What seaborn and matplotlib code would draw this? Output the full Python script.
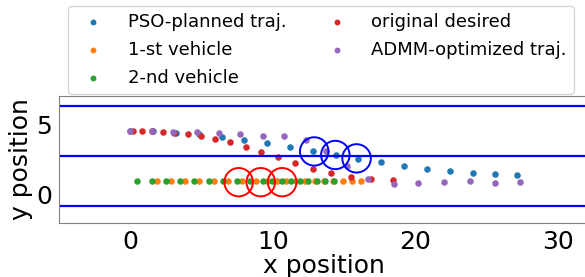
import numpy as np
import pandas as pd
import seaborn as sns
import matplotlib.pyplot as plt
from matplotlib.patches import Circle

# PSO-planned trajectory
pso_x = [0.0, 1.6, 3.2, 4.8, 6.4, 8.0, 9.6, 11.2, 12.8, 14.4, 16.0, 17.55, 19.2, 20.8, 22.4, 24.0, 25.55, 27.15]
pso_y = [4.5, 4.5, 4.4, 4.27, 4.08, 3.85, 3.66, 3.38, 3.1, 2.84, 2.56, 2.32, 2.06, 1.85, 1.71, 1.55, 1.48, 1.43]

# 1-st vehicle
veh1_x = [1.85, 2.85, 3.85, 4.85, 5.85, 6.85, 7.85, 8.85, 9.6, 10.28, 10.94, 11.6, 12.26, 12.92, 13.58, 14.24, 14.9, 15.55, 16.2]
veh1_y = [1.0] * len(veh1_x)

# 2-nd vehicle
veh2_x = [0.5, 1.5, 2.5, 3.5, 4.5, 5.5, 6.5, 7.5, 8.4, 9.28, 9.91, 10.61, 11.3, 11.91, 12.48, 13.06, 13.67, 14.27]
veh2_y = [1.0] * len(veh2_x)

# original desired trajectory
orig_x = [0.22, 0.82, 1.5, 2.27, 3.1, 4.02, 4.98, 5.96, 7.01, 8.11, 9.2, 10.37, 11.54, 12.8, 14.11, 15.47, 16.91, 18.39]
orig_y = [4.5, 4.5, 4.5, 4.43, 4.4, 4.3, 4.18, 3.94, 3.71, 3.38, 3.03, 2.65, 2.25, 1.83, 1.55, 1.27, 1.1, 1.03]

# ADMM-optimized trajectory
admm_x = [0.0, 1.52, 3.02, 4.65, 6.19, 7.71, 9.32, 10.8, 12.29, 13.71, 15.23, 16.7, 18.46, 20.21, 21.98, 23.8, 25.58, 27.36]
admm_y = [4.5, 4.5, 4.43, 4.41, 4.37, 4.27, 4.18, 4.13, 3.85, 3.1, 2.01, 1.13, 0.8, 0.85, 0.89, 0.99, 0.87, 0.94]

lane_lines = [-0.75, 2.75, 6.25]
red_circles = [(7.6, 0.9), (9.15, 0.9), (10.65, 0.9)]
blue_circles = [(12.9, 3.07), (14.38, 2.82), (15.87, 2.58)]
circle_r = 1.0

sns.set_style("white")
plt.rcParams['font.family'] = ['DejaVu Sans']
plt.rcParams['text.color'] = 'black'
plt.rcParams['axes.labelcolor'] = 'black'
plt.rcParams['xtick.color'] = 'black'
plt.rcParams['ytick.color'] = 'black'

fig = plt.figure(figsize=(5.85, 2.77), dpi=100)
ax = fig.add_axes([59 / 585, 53.7 / 277, 529 / 585, 127.6 / 277])

series = [
    (pso_x, pso_y, 'PSO-planned traj.', 'C0'),
    (veh1_x, veh1_y, '1-st vehicle', 'C1'),
    (veh2_x, veh2_y, '2-nd vehicle', 'C2'),
    (orig_x, orig_y, 'original desired', 'C3'),
    (admm_x, admm_y, 'ADMM-optimized traj.', 'C4'),
]
for xs, ys, lab, col in series:
    sns.scatterplot(x=xs, y=ys, ax=ax, color=col, label=lab, s=22, linewidth=0)

for y in lane_lines:
    ax.axhline(y, color='b', lw=1.6)

for cx, cy in red_circles:
    ax.add_patch(Circle((cx, cy), circle_r, fill=False, edgecolor='r', lw=1.4))
for cx, cy in blue_circles:
    ax.add_patch(Circle((cx, cy), circle_r, fill=False, edgecolor='b', lw=1.4))

ax.set_xlim(-5, 32.1)
ax.set_ylim(-2, 7)
ax.set_xticks([0, 10, 20, 30])
ax.set_yticks([0, 5])
ax.tick_params(labelsize=18, length=3, color='gray', labelcolor='black', pad=2)
for sp in ax.spines.values():
    sp.set_color('gray')
ax.set_xlabel('x position', fontsize=18, labelpad=0)
ax.set_ylabel('y position', fontsize=18, labelpad=2)

leg = ax.legend(ncol=2, loc='lower center', bbox_to_anchor=(0.495, 1.0), fontsize=13,
                frameon=True, borderaxespad=0.1, columnspacing=1.8, handletextpad=0.9,
                labelspacing=0.55, markerscale=0.9)
for t in leg.get_texts():
    t.set_color('black')

fig.savefig('out.png', dpi=100)
